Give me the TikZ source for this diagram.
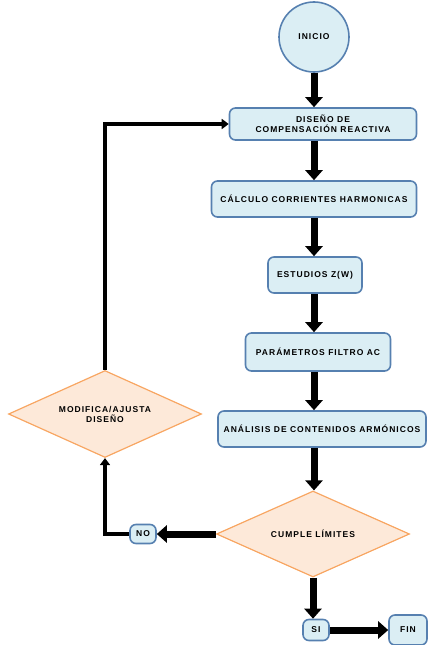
\documentclass[tikz,border=0pt]{standalone}
\usepackage{fontspec}
\usepackage{tikz}
\usetikzlibrary{arrows.meta}
\usetikzlibrary{shapes.geometric}
\usetikzlibrary{positioning}
\newfontfamily\flowfont{Liberation Sans}
\newcommand{\flowtext}{\flowfont\bfseries\fontsize{8.5}{10}\selectfont\addfontfeature{LetterSpace=12}}
\definecolor{boxblue}{RGB}{219,238,244}
\definecolor{boxedge}{RGB}{86,128,176}
\definecolor{mpeach}{RGB}{253,233,217}
\definecolor{morange}{RGB}{248,166,98}
\tikzset{proc/.style = {draw=boxedge, fill=boxblue, rounded corners=6, line width=1.6, align=center, inner sep=0, font=\flowtext}}
\tikzset{choice/.style = {diamond, draw=morange, fill=mpeach, line width=1.2, aspect=2.2, inner sep=0, align=center, font=\flowtext}}
\tikzset{flow/.style = {line width=7, -{Triangle[width=17pt, length=10pt]}}}
\tikzset{back/.style = {line width=4, -{Triangle[width=10pt, length=7pt]}}}

\begin{document}
\begin{tikzpicture}[x=1pt, y=-1pt]
      \useasboundingbox (0, 0) rectangle (428, 645);

      \node [proc, circle, minimum size = 70] (inicio) at (314, 37) {INICIO};
      \node [proc, minimum width = 187, minimum height = 32] (diseno) at (323, 124) {DISEÑO DE\\COMPENSACIÓN REACTIVA};
      \node [proc, minimum width = 205, minimum height = 36] (calculo) at (314, 199) {CÁLCULO CORRIENTES HARMONICAS};
      \node [proc, minimum width = 94, minimum height = 36] (estudios) at (315, 275) {ESTUDIOS Z(W)};
      \node [proc, minimum width = 145, minimum height = 38] (parametros) at (318, 352) {PARÁMETROS FILTRO AC};
      \node [proc, minimum width = 208, minimum height = 36] (analisis) at (322, 429) {ANÁLISIS DE CONTENIDOS ARMÓNICOS};
      \node [choice, minimum width = 193, minimum height = 86] (cumple) at (313, 534) {CUMPLE LÍMITES};
      \node [choice, minimum width = 193, minimum height = 87] (modifica) at (105, 414) {MODIFICA/AJUSTA\\DISEÑO};
      \node [proc, minimum width = 26, minimum height = 19] (no) at (143, 534) {NO};
      \node [proc, minimum width = 26, minimum height = 21] (si) at (316, 630) {SI};
      \node [proc, minimum width = 38, minimum height = 30] (fin) at (408, 630) {FIN};

      \draw [flow] (inicio.south) -- (inicio.south |- diseno.north);
      \draw [flow] (inicio.south |- diseno.south) -- (inicio.south |- calculo.north);
      \draw [flow] (inicio.south |- calculo.south) -- (inicio.south |- estudios.north);
      \draw [flow] (inicio.south |- estudios.south) -- (inicio.south |- parametros.north);
      \draw [flow] (inicio.south |- parametros.south) -- (inicio.south |- analisis.north);
      \draw [flow] (inicio.south |- analisis.south) -- (inicio.south |- cumple.north);

      \draw [flow] (cumple.south) -- (cumple.south |- si.north);
      \draw [flow] (si.east) -- (fin.west);
      \draw [flow] (cumple.west) -- (no.east);

      \draw [back] (no.west) -| (modifica.south);
      \draw [back] (modifica.north) |- (diseno.west);
    \end{tikzpicture}
\end{document}
